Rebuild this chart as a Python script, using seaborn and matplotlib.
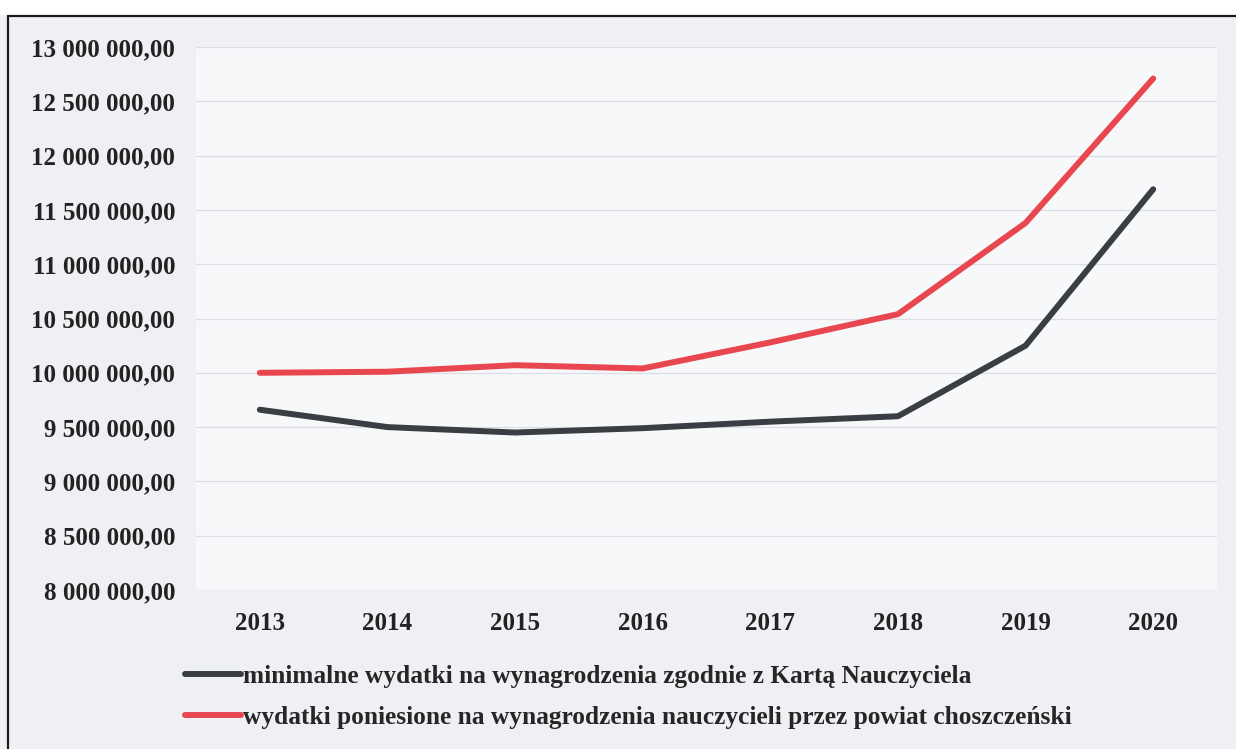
import numpy as np
import pandas as pd
import matplotlib.pyplot as plt
import seaborn as sns
from matplotlib.patches import Rectangle
from matplotlib.lines import Line2D

years = [2013, 2014, 2015, 2016, 2017, 2018, 2019, 2020]
minimalne = [9660000, 9500000, 9450000, 9490000, 9550000, 9600000, 10250000, 11690000]
poniesione = [10000000, 10010000, 10070000, 10040000, 10280000, 10540000, 11380000, 12710000]
labels = ["minimalne wydatki na wynagrodzenia zgodnie z Kartą Nauczyciela",
          "wydatki poniesione na wynagrodzenia nauczycieli przez powiat choszczeński"]
colors = ["#3a3d43", "#e9474f"]

df = pd.DataFrame({
    "rok": years * 2,
    "kwota": minimalne + poniesione,
    "seria": [labels[0]] * len(years) + [labels[1]] * len(years),
})

sns.set_style("white")
plt.rcParams['font.family'] = ['Liberation Serif', 'DejaVu Serif']

fig = plt.figure(figsize=(12.36, 7.49), dpi=100, facecolor="#eef0f4")
# white strip above the scanned frame
fig.patches.append(Rectangle((0, 1 - 15 / 749), 1, 15 / 749, transform=fig.transFigure,
                             facecolor="white", edgecolor="none", zorder=0))
fig.lines.append(Line2D([8 / 1236, 1], [1 - 16 / 749, 1 - 16 / 749], transform=fig.transFigure,
                        color="#1a1a1a", lw=1.6))
fig.lines.append(Line2D([8 / 1236, 8 / 1236], [0, 1 - 16 / 749], transform=fig.transFigure,
                        color="#1a1a1a", lw=1.6))

ax = fig.add_axes([196 / 1236, 1 - 590 / 749, 1021 / 1236, 543 / 749])
ax.set_facecolor("#f7f8fa")

sns.lineplot(data=df, x="rok", y="kwota", hue="seria", palette=colors, linewidth=4.3,
             solid_capstyle="round", ax=ax, legend=False)

ax.set_xlim(2012.5, 2020.5)
ax.set_ylim(8000000, 13000000)
ax.set_xticks(years)
ax.set_xticklabels([str(y) for y in years], fontsize=18, fontweight="bold", color="#222222")
yt = np.arange(8000000, 13000001, 500000)
ax.set_yticks(yt)
ax.set_yticklabels([f"{v:,.2f}".replace(",", " ").replace(".", ",") for v in yt],
                   fontsize=18, fontweight="bold", color="#222222")
ax.tick_params(axis="y", pad=15, length=0)
ax.tick_params(axis="x", pad=16, length=0)
ax.grid(axis="y", color="#dcdee3", linewidth=0.9)
ax.set_axisbelow(True)
for s in ax.spines.values():
    s.set_visible(False)
ax.set_xlabel("")
ax.set_ylabel("")

handles = [Line2D([], [], color=c, lw=4.3, solid_capstyle="round") for c in colors]
fig.legend(handles, labels, loc="upper left", bbox_to_anchor=(162 / 1236, 1 - 642 / 749),
           frameon=False, handlelength=2.2, handletextpad=0.1, labelspacing=0.7,
           prop={"family": "Liberation Serif", "weight": "bold", "size": 18.3})

fig.savefig("out.png", dpi=100, facecolor=fig.get_facecolor())
